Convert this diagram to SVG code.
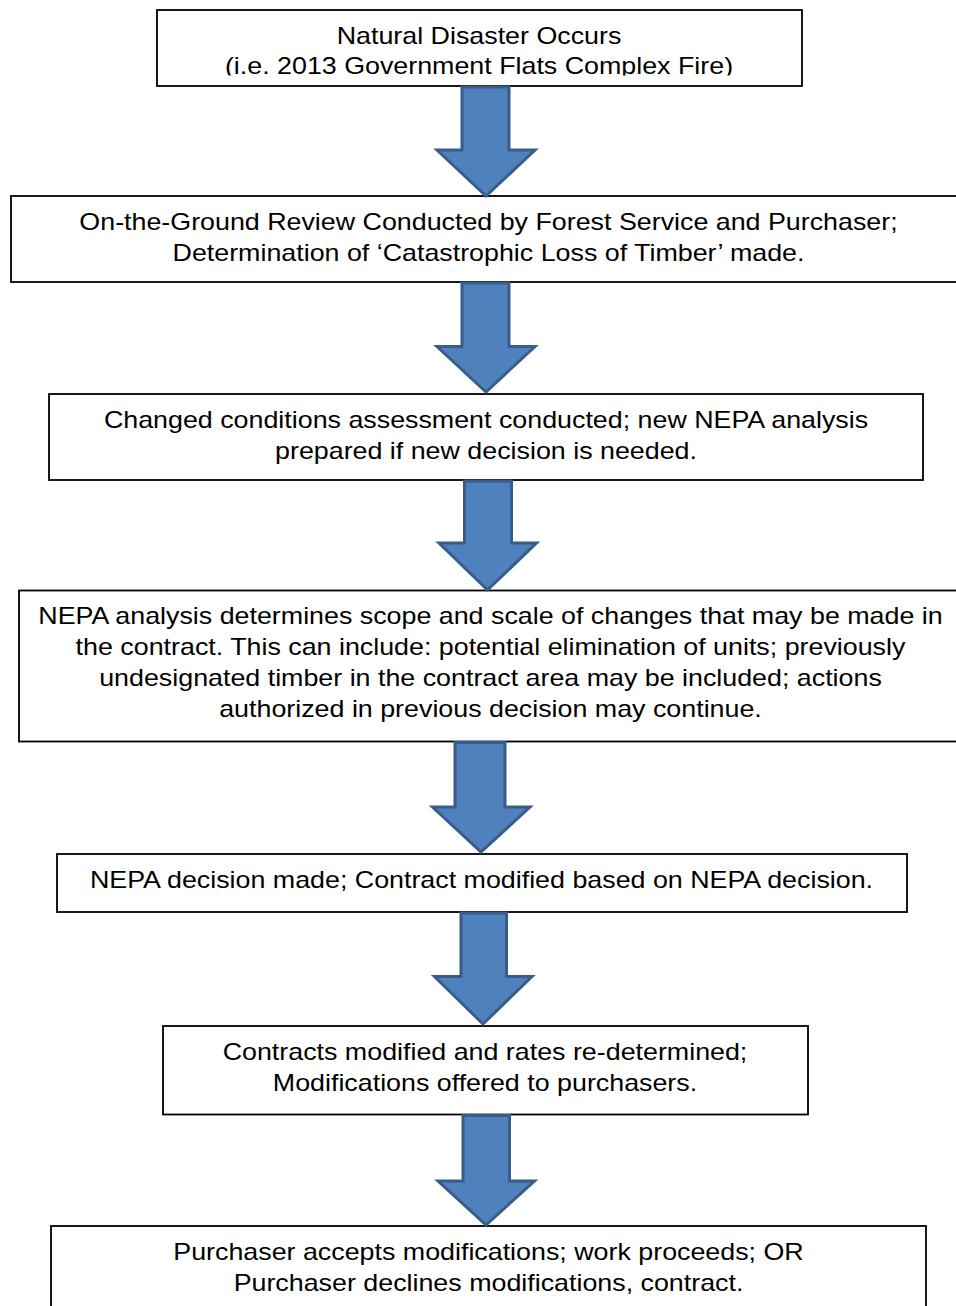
<svg xmlns="http://www.w3.org/2000/svg" width="956" height="1306" viewBox="0 0 956 1306">
<style>
.box{fill:#ffffff;stroke:#000000;stroke-width:1.8}
.t{font-family:"Liberation Sans",Arial,sans-serif;font-size:23.4px;fill:#000000;text-anchor:middle}
.arr{fill:#4F81BD;stroke:#385D8A;stroke-width:3;stroke-linejoin:miter}
</style>
<defs>
<clipPath id="c1"><rect x="157" y="10" width="645" height="65.5"/></clipPath>
</defs>
<rect x="0" y="0" width="956" height="1306" fill="#ffffff"/>
<g id="n1">
<rect class="box" x="157" y="10" width="645" height="76"/>
<g clip-path="url(#c1)"><g transform="translate(479 0) scale(1.147 1)">
<text class="t" x="0" y="44.3">Natural Disaster Occurs</text>
<text class="t" x="0" y="74.5">(i.e. 2013 Government Flats Complex Fire)</text>
</g></g>
</g>
<g id="n2">
<rect class="box" x="11" y="196" width="960" height="86"/>
<g transform="translate(488.5 0) scale(1.147 1)">
<text class="t" x="0" y="230">On-the-Ground Review Conducted by Forest Service and Purchaser;</text>
<text class="t" x="0" y="261">Determination of ‘Catastrophic Loss of Timber’ made.</text>
</g>
</g>
<g id="n3">
<rect class="box" x="49" y="394" width="874" height="86"/>
<g transform="translate(486 0) scale(1.147 1)">
<text class="t" x="0" y="428">Changed conditions assessment conducted; new NEPA analysis</text>
<text class="t" x="0" y="459">prepared if new decision is needed.</text>
</g>
</g>
<g id="n4">
<rect class="box" x="19" y="590.5" width="955" height="151"/>
<g transform="translate(490.5 0) scale(1.147 1)">
<text class="t" x="0" y="624.5">NEPA analysis determines scope and scale of changes that may be made in</text>
<text class="t" x="0" y="655.2">the contract. This can include: potential elimination of units; previously</text>
<text class="t" x="0" y="685.9">undesignated timber in the contract area may be included; actions</text>
<text class="t" x="0" y="716.6">authorized in previous decision may continue.</text>
</g>
</g>
<g id="n5">
<rect class="box" x="57" y="854" width="850" height="58"/>
<g transform="translate(481.5 0) scale(1.147 1)">
<text class="t" x="0" y="888">NEPA decision made; Contract modified based on NEPA decision.</text>
</g>
</g>
<g id="n6">
<rect class="box" x="163" y="1026" width="645" height="88.5"/>
<g transform="translate(485 0) scale(1.147 1)">
<text class="t" x="0" y="1060">Contracts modified and rates re-determined;</text>
<text class="t" x="0" y="1091">Modifications offered to purchasers.</text>
</g>
</g>
<g id="n7">
<rect class="box" x="51" y="1226" width="875" height="100"/>
<g transform="translate(488.5 0) scale(1.147 1)">
<text class="t" x="0" y="1260">Purchaser accepts modifications; work proceeds; OR</text>
<text class="t" x="0" y="1291">Purchaser declines modifications, contract.</text>
</g>
</g>
<g id="connectors">
<polygon class="arr" points="462,87 509,87 509,150 535,150 486,196 437,150 462,150"/>
<polygon class="arr" points="462,283 509,283 509,346.5 535,346.5 486,392 437,346.5 462,346.5"/>
<polygon class="arr" points="464.5,481 511.5,481 511.5,543 536.5,543 487.5,590 439,543 464.5,543"/>
<polygon class="arr" points="455,742.5 505,742.5 505,807 530,807 481,852 432.5,807 455,807"/>
<polygon class="arr" points="461,913 506.5,913 506.5,976.5 532,976.5 483,1024 434.5,976.5 461,976.5"/>
<polygon class="arr" points="463,1115.5 509.5,1115.5 509.5,1181 534.5,1181 486,1225 438,1181 463,1181"/>
</g>
</svg>
